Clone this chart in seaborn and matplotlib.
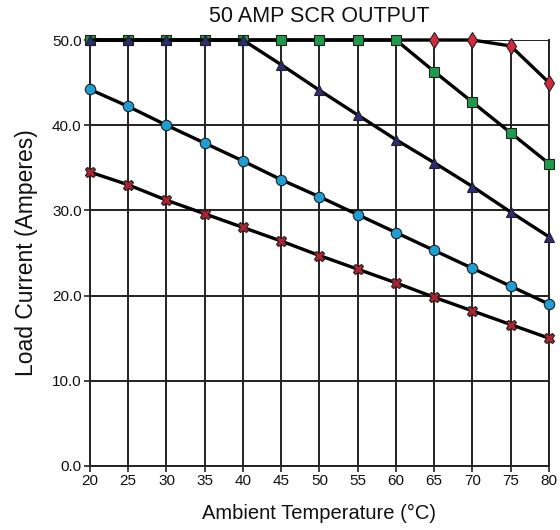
import pandas as pd
import numpy as np
import matplotlib.pyplot as plt
import seaborn as sns

# Daten
temps = [20, 25, 30, 35, 40, 45, 50, 55, 60, 65, 70, 75, 80]
curve_diamond = [50.0, 50.0, 50.0, 50.0, 50.0, 50.0, 50.0, 50.0, 50.0, 50.0, 50.0, 49.3, 45.0]
curve_square = [50.0, 50.0, 50.0, 50.0, 50.0, 50.0, 50.0, 50.0, 50.0, 46.3, 42.7, 39.1, 35.5]
curve_triangle = [50.0, 50.0, 50.0, 50.0, 50.0, 47.1, 44.1, 41.2, 38.3, 35.6, 32.8, 29.8, 26.9]
curve_circle = [44.2, 42.2, 40.0, 37.9, 35.8, 33.6, 31.6, 29.5, 27.4, 25.3, 23.2, 21.1, 19.0]
curve_x = [34.5, 33.0, 31.2, 29.6, 28.0, 26.4, 24.7, 23.1, 21.5, 19.8, 18.2, 16.6, 15.0]

# (name, werte, marker, farbe, groesse, sichtbare marker)
series = [
    ("diamond", curve_diamond, "d", "#d42a3c", 8, slice(9, None)),
    ("square", curve_square, "s", "#1f9a4a", 6.5, None),
    ("triangle", curve_triangle, "^", "#2c2c78", 7, None),
    ("circle", curve_circle, "o", "#1c9fd6", 7.5, None),
    ("x", curve_x, "X", "#b0222e", 7.5, None),
]

sns.set_theme(style="white")
plt.rcParams['font.family'] = ['Liberation Sans', 'DejaVu Sans']

fig = plt.figure(figsize=(5.6, 5.3), dpi=100)
ax = fig.add_axes([0.1607, 0.1208, 0.8196, 0.8037])

for name, vals, mk, col, ms, every in series:
    df = pd.DataFrame({"temp": temps, "amps": vals})
    sns.lineplot(data=df, x="temp", y="amps", ax=ax, color="black", linewidth=2.4,
                 marker=mk, markersize=ms, markerfacecolor=col, markevery=every,
                 markeredgecolor="#222222", markeredgewidth=0.8, zorder=3, clip_on=False)

ax.set_xlim(20, 80)
ax.set_ylim(0, 50)
ax.set_xticks(temps)
ax.set_yticks([0, 10, 20, 30, 40, 50])
ax.set_yticklabels(["0.0", "10.0", "20.0", "30.0", "40.0", "50.0"])

narrow = ['Liberation Sans Narrow', 'Liberation Sans', 'DejaVu Sans']
for lbl in ax.get_xticklabels() + ax.get_yticklabels():
    lbl.set_family(narrow)
    lbl.set_fontsize(11)
    lbl.set_color("#111111")

ax.grid(True, color="#222222", linewidth=1.4)
ax.set_axisbelow(True)
for side in ["left", "bottom", "right"]:
    ax.spines[side].set_color("#222222")
    ax.spines[side].set_linewidth(1.4)
ax.spines["top"].set_visible(False)
ax.tick_params(axis="both", direction="out", length=4, width=1.2, color="#222222", pad=2,
               left=True, bottom=True)

ax.set_title("50 AMP SCR OUTPUT", fontsize=15.5, color="#111111", pad=13)
ax.set_xlabel("Ambient Temperature (°C)", fontsize=14.5, color="#111111", labelpad=11)
ax.set_ylabel("Load Current (Amperes)", fontsize=16.5, color="#111111", labelpad=10)

fig.savefig("out.png", dpi=100)
plt.close(fig)
